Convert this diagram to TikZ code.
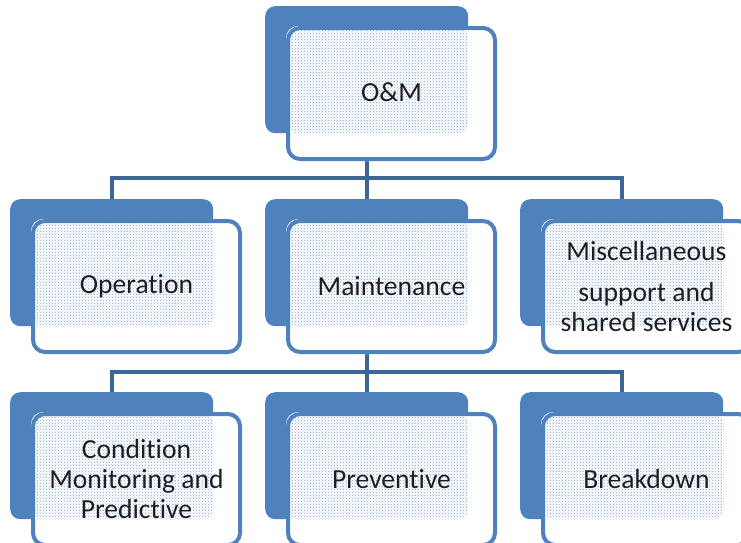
\documentclass[tikz,border=0pt]{standalone}
\usepackage{fontspec}
\setmainfont{Carlito}[Ligatures=NoCommon]
\usetikzlibrary{patterns}
\pgfdeclarelayer{connl}
\pgfdeclarelayer{back}
\pgfdeclarelayer{pat}
\pgfsetlayers{connl,back,pat,main}
\definecolor{boxblue}{HTML}{4F81BD}
\definecolor{connblue}{HTML}{3C6696}
\definecolor{dotblue}{HTML}{7F9FD0}
\definecolor{txt}{HTML}{1E1E1E}
\tikzset{
  backbox/.style={fill=boxblue, rounded corners=10pt, minimum width=203pt, minimum height=127pt, inner sep=0pt, anchor=north west},
  frontbox/.style={draw=boxblue, line width=4pt, rounded corners=12pt, minimum width=207pt, minimum height=131pt, inner sep=0pt, anchor=north west, align=center, text=txt, font=\fontsize{27.6}{30}\selectfont},
  conn/.style={draw=connblue, line width=4pt},
  dotfill/.style={pattern=crosshatch dots, pattern color=dotblue, rounded corners=10pt}
}
\newcommand\omnode[4]{%
  \begin{pgfonlayer}{back}
    \node[backbox] (#1-b) at (#2,#3) {};
  \end{pgfonlayer}
  \node[frontbox] (#1) at (#2+21,#3+20) {#4};
  \begin{pgfonlayer}{back}
    \fill[white, rounded corners=12pt] (#1.north west) rectangle (#1.south east);
  \end{pgfonlayer}
  \begin{pgfonlayer}{pat}
    \fill[dotfill] ([xshift=2pt,yshift=-2pt]#1.north west) rectangle (#1-b.south east);
  \end{pgfonlayer}
}
\begin{document}
\begin{tikzpicture}[x=1pt,y=-1pt]
\useasboundingbox (0,0) rectangle (741,542);
\omnode{om}{265}{6}{\raisebox{3pt}{O\&M}}
\omnode{op}{10}{199}{Operation}
\omnode{mt}{265}{199}{Maintenance}
\omnode{ms}{520}{199}{Miscellaneous\\[11pt]support and\\shared services}
\omnode{cm}{10}{392}{Condition\\Monitoring and\\Predictive}
\omnode{pv}{265}{392}{Preventive}
\omnode{bd}{520}{392}{Breakdown}
\begin{pgfonlayer}{connl}
  \path (om-b.south) ++(0,45) coordinate (j1);
  \path (mt-b.south) ++(0,46) coordinate (j2);
  \draw[conn] (om-b.south) -- (j1);
  \draw[conn] (j1) -| (op-b.north);
  \draw[conn] (j1) -| (mt-b.north);
  \draw[conn] (j1) -| (ms-b.north);
  \draw[conn] (mt-b.south) -- (j2);
  \draw[conn] (j2) -| (cm-b.north);
  \draw[conn] (j2) -| (pv-b.north);
  \draw[conn] (j2) -| (bd-b.north);
\end{pgfonlayer}
\end{tikzpicture}
\end{document}
